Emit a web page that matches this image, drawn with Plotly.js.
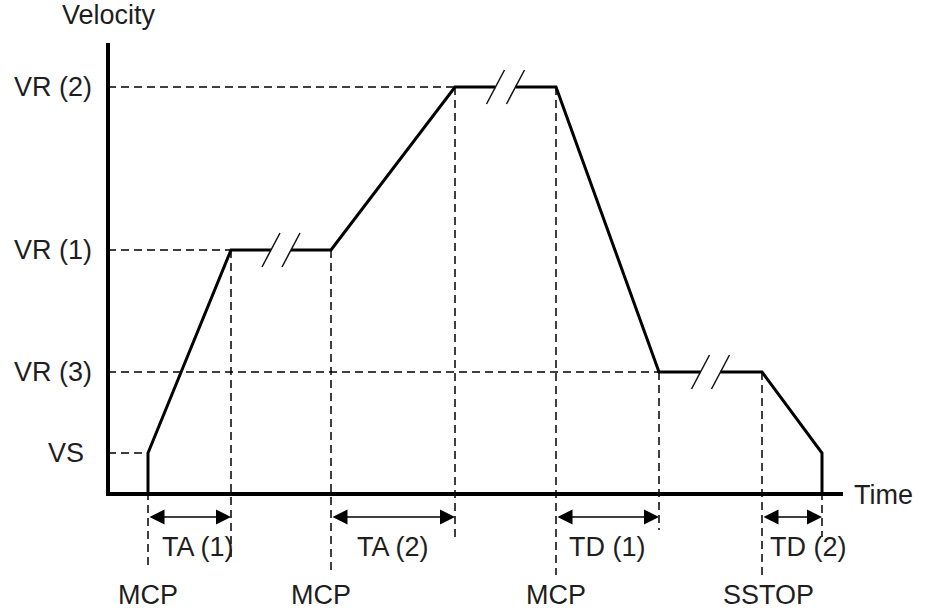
<!DOCTYPE html>
<html>
<head>
<meta charset="utf-8">
<script src="https://cdn.plot.ly/plotly-3.0.1.min.js"></script>
<style>html,body{margin:0;padding:0;background:#fff;}#chart{width:935px;height:612px;}</style>
</head>
<body>
<div id="chart"></div>
<script>
// ---- data (time and velocity in arbitrary units) ----
const levelNames = ['VS', 'VR (3)', 'VR (1)', 'VR (2)'];
const levelValues = [41, 122, 244, 407];
const profileTime = [40, 40, 123, 223, 347, 448, 551, 654, 714, 714];
const profileVelocity = [0, 41, 244, 244, 407, 407, 122, 122, 41, 0];
const eventNames = ['MCP', 'MCP', 'MCP', 'SSTOP'];
const eventTimes = [40, 223, 448, 654];
const intervalNames = ['TA (1)', 'TA (2)', 'TD (1)', 'TD (2)'];
const intervalStart = [40, 223, 448, 654];
const intervalEnd = [123, 347, 551, 714];
const axisTitles = ['Time', 'Velocity'];

// ---- layout / style settings ----
const FONT = 'Liberation Sans, Arial, Helvetica, sans-serif';
const TXT = '#1e1e1e';
const FS = 27;
const xMax = 735, yMax = 451;
const arrowY = -23, intervalLabelY = -53, eventLabelY = -101;
const guideBottom = {40: -76, 123: -68, 223: -78, 347: -43, 448: -81, 551: -36, 654: -81, 714: -43};
const eventShift = [0, -10, 0, 6];
const intervalShift = [8, 0, 0, 16];
const levelShift = {'VS': -8};

function velAt(t) {
  let m = 0;
  profileTime.forEach((pt, i) => { if (pt === t) m = Math.max(m, profileVelocity[i]); });
  return m;
}

// horizontal dashed guides: from velocity axis to first time the level is reached
const hx = [], hy = [];
levelValues.forEach(v => {
  const i = profileVelocity.indexOf(v);
  hx.push(0, profileTime[i], null);
  hy.push(v, v, null);
});
// vertical dashed guides
const vx = [], vy = [];
const guideTimes = Array.from(new Set(intervalStart.concat(intervalEnd)));
guideTimes.forEach(t => {
  vx.push(t, t, null);
  vy.push(velAt(t), guideBottom[t], null);
});

// profile with break marks on constant-velocity segments
const px = [], py = [], bx = [], by = [];
for (let i = 0; i < profileTime.length; i++) {
  px.push(profileTime[i]); py.push(profileVelocity[i]);
  if (i < profileTime.length - 1) {
    const v = profileVelocity[i];
    if (v > 0 && v === profileVelocity[i + 1] && profileTime[i + 1] - profileTime[i] > 50) {
      const mid = (profileTime[i] + profileTime[i + 1]) / 2;
      px.push(mid - 10, null, mid + 10); py.push(v, null, v);
      [mid - 10, mid + 10].forEach(c => {
        bx.push(c - 9, c + 9, null); by.push(v - 17, v + 17, null);
      });
    }
  }
}

const traces = [
  {x: hx, y: hy, mode: 'lines', line: {color: '#000', width: 1.5, dash: '8px,5px'}, hoverinfo: 'skip'},
  {x: vx, y: vy, mode: 'lines', line: {color: '#000', width: 1.5, dash: '8px,5px'}, hoverinfo: 'skip'},
  {x: px, y: py, mode: 'lines', line: {color: '#000', width: 3}, connectgaps: false, hoverinfo: 'skip'},
  {x: bx, y: by, mode: 'lines', line: {color: '#111', width: 1.5}, connectgaps: false, hoverinfo: 'skip'}
];

const annotations = [];
levelNames.forEach((n, i) => {
  annotations.push({x: -14, y: levelValues[i], xref: 'x', yref: 'y', text: n, showarrow: false,
    xanchor: 'right', yanchor: 'middle', xshift: levelShift[n] || 0,
    font: {family: FONT, size: FS, color: TXT}});
});
intervalNames.forEach((n, i) => {
  annotations.push({x: intervalEnd[i], y: arrowY, ax: intervalStart[i], ay: arrowY, axref: 'x', ayref: 'y',
    xref: 'x', yref: 'y', text: '', showarrow: true, arrowside: 'end+start',
    arrowhead: 2, startarrowhead: 2, arrowsize: 2, startarrowsize: 2, arrowwidth: 1.5,
    arrowcolor: '#000', standoff: 0, startstandoff: 0});
  annotations.push({x: (intervalStart[i] + intervalEnd[i]) / 2, y: intervalLabelY, xref: 'x', yref: 'y',
    text: n, showarrow: false, xanchor: 'center', yanchor: 'middle', xshift: intervalShift[i],
    font: {family: FONT, size: FS, color: TXT}});
});
eventNames.forEach((n, i) => {
  annotations.push({x: eventTimes[i], y: eventLabelY, xref: 'x', yref: 'y', text: n, showarrow: false,
    xanchor: 'center', yanchor: 'middle', xshift: eventShift[i],
    font: {family: FONT, size: FS, color: TXT}});
});
annotations.push({x: xMax + 9, y: -1, xref: 'x', yref: 'y', text: axisTitles[0], showarrow: false,
  xanchor: 'left', yanchor: 'middle', font: {family: FONT, size: FS, color: TXT}});
annotations.push({x: 1, y: yMax + 28, xref: 'x', yref: 'y', text: axisTitles[1], showarrow: false,
  xanchor: 'center', yanchor: 'middle', font: {family: FONT, size: FS, color: TXT}});

const layout = {
  width: 935, height: 612,
  margin: {l: 0, r: 0, t: 0, b: 0},
  paper_bgcolor: '#fff', plot_bgcolor: '#fff',
  showlegend: false,
  xaxis: {visible: false, range: [-108, 827], fixedrange: true},
  yaxis: {visible: false, range: [-118, 494], fixedrange: true},
  shapes: [
    {type: 'line', xref: 'x', yref: 'y', x0: -2, y0: 0, x1: xMax, y1: 0, line: {color: '#000', width: 4}},
    {type: 'line', xref: 'x', yref: 'y', x0: 0, y0: -2, x1: 0, y1: yMax, line: {color: '#000', width: 4}}
  ],
  annotations: annotations
};

Plotly.newPlot('chart', traces, layout, {staticPlot: true, displayModeBar: false});
</script>
</body>
</html>
